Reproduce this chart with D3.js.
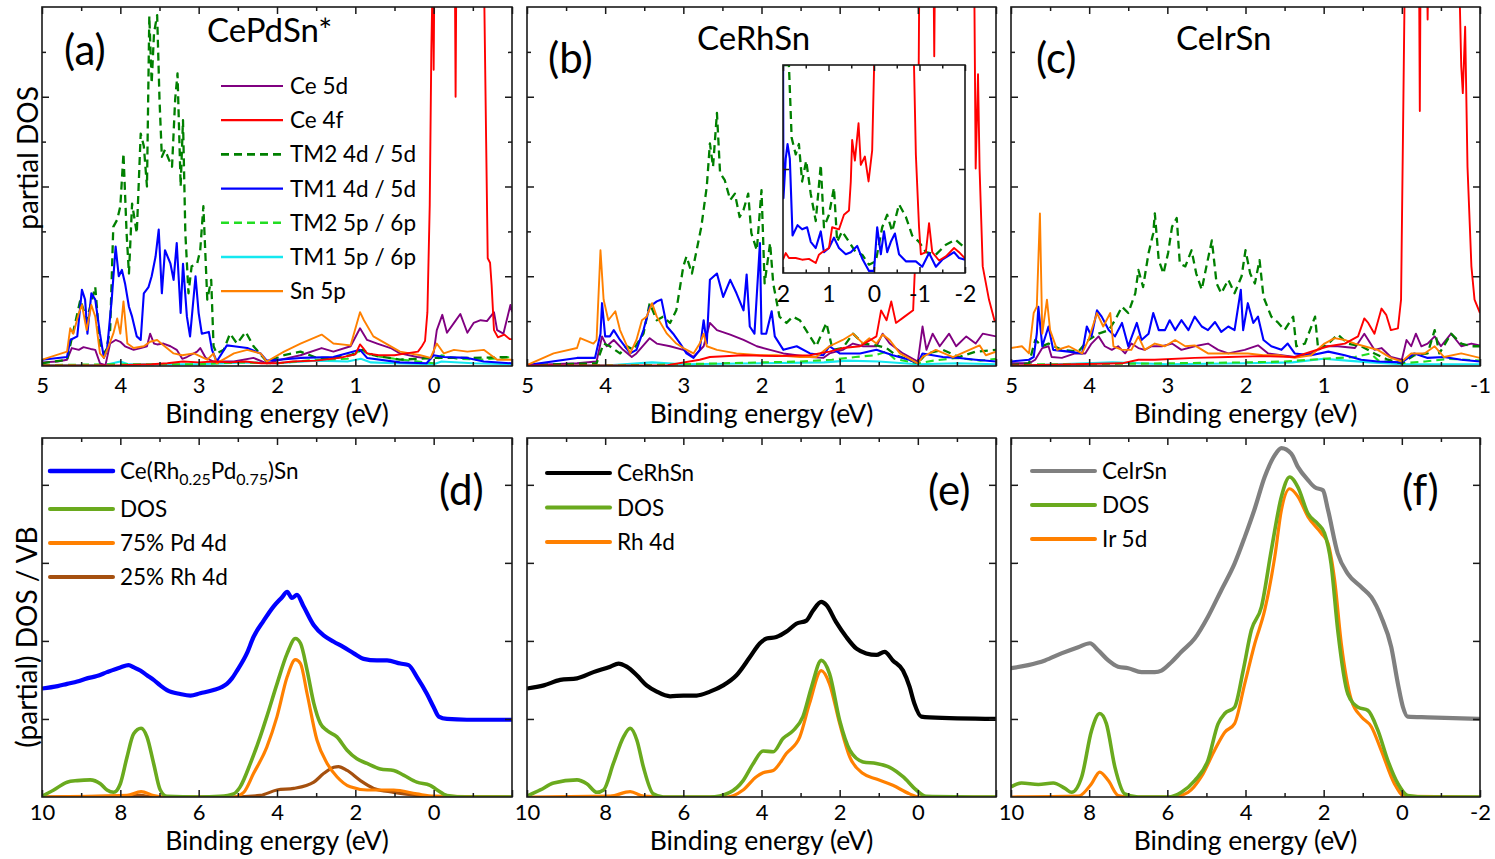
<!DOCTYPE html>
<html lang="en">
<head>
  <meta charset="UTF-8">
  <title>Partial DOS and valence band spectra</title>
  <script src="https://d3js.org/d3.v7.min.js"></script>
  <style>
    body { margin: 0; background: #fff; }
    svg { display: block; }
  </style>
</head>
<body>
<svg id="chart" width="1495" height="859"></svg>
<script>
  // ---------- data: [binding energy (eV), value] ----------

  // (a) CePdSn*
  const a_ce5d = [[5,0.04],[4.8,0.05],[4.68,0.07],[4.62,0.2],[4.53,0.18],[4.47,0.21],[4.38,0.19],[4.32,0.18],[4.26,0.03],[4.19,0.01],[4.13,0.25],[4.06,0.29],[4.0,0.27],[3.94,0.22],[3.83,0.18],[3.74,0.2],[3.66,0.22],[3.62,0.36],[3.57,0.25],[3.53,0.24],[3.45,0.25],[3.36,0.22],[3.28,0.18],[3.21,0.08],[3.15,0.1],[3.02,0.16],[2.98,0.2],[2.91,0.09],[2.81,0.05],[2.55,0.05],[2.3,0.09],[2.13,0.03],[1.91,0.08],[1.7,0.12],[1.43,0.2],[1.28,0.16],[1.06,0.22],[0.94,0.42],[0.85,0.29],[0.72,0.25],[0.55,0.2],[0.43,0.14],[0.21,0.1],[0.04,0.08],[0,0.15],[-0.04,0.4],[-0.11,0.57],[-0.17,0.37],[-0.26,0.48],[-0.34,0.58],[-0.43,0.37],[-0.51,0.48],[-0.6,0.51],[-0.68,0.5],[-0.77,0.6],[-0.81,0.4],[-0.89,0.36],[-0.98,0.68],[-1,0.6]];
  const a_ce4f = [[5,0.005],[4.0,0.01],[3.6,0.02],[3.4,0.03],[3.2,0.05],[3.0,0.04],[2.8,0.05],[2.6,0.04],[2.4,0.05],[2.2,0.03],[2.0,0.03],[1.8,0.05],[1.5,0.06],[1.2,0.09],[1.0,0.13],[0.94,0.24],[0.9,0.2],[0.85,0.14],[0.7,0.12],[0.5,0.12],[0.35,0.14],[0.2,0.16],[0.15,0.22],[0.11,0.28],[0.08,0.6],[0.05,1.8],[0.03,3.5],[0.01,4.5],[0,3.3],[-0.01,4.5],[-0.27,4.5],[-0.28,3.0],[-0.29,4.5],[-0.64,4.5],[-0.67,2.5],[-0.69,1.2],[-0.72,1.15],[-0.74,0.9],[-0.77,0.4],[-0.82,0.32],[-0.9,0.35],[-0.97,0.3],[-1,0.3]];
  const a_tm2d = [[5,0.03],[4.68,0.07],[4.51,0.74],[4.43,0.51],[4.32,0.88],[4.26,0.22],[4.19,0.14],[4.13,0.4],[4.09,1.55],[4.04,1.63],[4.0,1.78],[3.96,2.37],[3.92,1.48],[3.89,1.03],[3.85,1.81],[3.79,1.48],[3.74,2.59],[3.7,2.45],[3.66,2.0],[3.63,3.9],[3.6,3.15],[3.57,3.71],[3.53,3.91],[3.5,2.97],[3.47,2.33],[3.43,2.41],[3.38,2.3],[3.34,2.22],[3.3,2.97],[3.27,3.26],[3.23,2.0],[3.2,2.74],[3.17,1.48],[3.13,0.81],[3.09,1.11],[3.02,1.14],[2.98,1.29],[2.94,1.78],[2.89,0.74],[2.84,0.96],[2.81,0.22],[2.77,0.14],[2.68,0.18],[2.6,0.36],[2.51,0.25],[2.4,0.38],[2.3,0.22],[2.13,0.05],[1.91,0.12],[1.7,0.16],[1.49,0.09],[1.28,0.09],[1.06,0.12],[0.91,0.18],[0.77,0.12],[0.43,0.07],[0,0.09],[-0.43,0.09],[-1,0.1]];
  const a_tm1d = [[5,0.07],[4.68,0.1],[4.64,0.29],[4.55,0.33],[4.49,0.85],[4.45,0.74],[4.42,0.36],[4.37,0.81],[4.32,0.74],[4.26,0.36],[4.21,0.09],[4.17,0.18],[4.11,0.74],[4.06,1.33],[4.02,1.0],[3.98,1.07],[3.94,0.92],[3.89,0.66],[3.85,0.55],[3.79,0.33],[3.74,0.29],[3.7,0.81],[3.64,0.88],[3.6,1.0],[3.55,1.22],[3.51,1.52],[3.47,0.81],[3.43,1.29],[3.36,1.14],[3.32,0.96],[3.28,1.37],[3.23,0.59],[3.2,1.14],[3.15,0.55],[3.11,0.33],[3.04,1.0],[3.0,0.59],[2.96,0.36],[2.87,0.38],[2.83,0.18],[2.77,0.05],[2.64,0.23],[2.55,0.22],[2.38,0.2],[2.21,0.14],[2.13,0.06],[1.7,0.09],[1.28,0.1],[0.94,0.18],[0.85,0.09],[0.43,0.04],[0.09,0.03],[0,0.12],[-0.13,0.1],[-0.43,0.09],[-0.64,0.05],[-1,0.03]];
  const a_tm2p = [[5,0.01],[4,0.02],[3,0.02],[2.5,0.04],[2,0.03],[1.5,0.07],[1.1,0.08],[0.93,0.18],[0.8,0.12],[0.5,0.08],[0.2,0.05],[0,0.03],[-0.1,0.12],[-0.3,0.08],[-0.6,0.07],[-1,0.1]];
  const a_tm1p = [[5,0.01],[4.2,0.01],[4.0,0.05],[3.9,0.02],[3,0.02],[2.4,0.04],[2,0.03],[1.5,0.06],[1.1,0.05],[0.93,0.08],[0.8,0.04],[0.5,0.03],[0,0.02],[-0.1,0.05],[-0.5,0.03],[-1,0.02]];
  const a_sn5p = [[5,0.07],[4.68,0.16],[4.64,0.42],[4.6,0.36],[4.53,0.59],[4.49,0.68],[4.43,0.4],[4.37,0.68],[4.32,0.55],[4.26,0.14],[4.21,0.09],[4.15,0.22],[4.09,0.36],[4.04,0.53],[4.0,0.36],[3.96,0.72],[3.91,0.25],[3.83,0.2],[3.7,0.22],[3.62,0.27],[3.53,0.29],[3.45,0.23],[3.32,0.14],[3.21,0.12],[3.06,0.14],[2.89,0.07],[2.81,0.14],[2.77,0.03],[2.55,0.14],[2.38,0.18],[2.21,0.14],[2.13,0.05],[1.91,0.16],[1.7,0.25],[1.43,0.35],[1.28,0.25],[1.06,0.23],[0.94,0.6],[0.89,0.51],[0.77,0.33],[0.43,0.16],[0.17,0.12],[0.04,0.09],[-0.04,0.25],[-0.13,0.14],[-0.26,0.18],[-0.43,0.16],[-0.64,0.18],[-0.81,0.07],[-1,0.07]];

  // (b) CeRhSn
  const b_ce5d = [[5,0.01],[4.36,0.03],[4.11,0.05],[4.04,0.33],[3.98,0.22],[3.89,0.29],[3.77,0.18],[3.66,0.1],[3.6,0.14],[3.43,0.31],[3.34,0.25],[3.17,0.22],[3.0,0.18],[2.87,0.1],[2.74,0.22],[2.66,0.48],[2.57,0.4],[2.4,0.35],[2.23,0.29],[2.06,0.22],[1.89,0.18],[1.72,0.14],[1.55,0.12],[1.38,0.1],[1.21,0.09],[1.13,0.14],[0.96,0.18],[0.83,0.25],[0.7,0.22],[0.53,0.22],[0.45,0.36],[0.36,0.25],[0.19,0.14],[0,0.05],[-0.06,0.44],[-0.11,0.18],[-0.19,0.36],[-0.28,0.22],[-0.4,0.36],[-0.49,0.22],[-0.62,0.33],[-0.74,0.25],[-0.83,0.36],[-1,0.33]];
  const b_ce4f = [[5,0.005],[3.2,0.01],[2.79,0.07],[2.66,0.1],[2.23,0.12],[1.81,0.11],[1.38,0.12],[1.26,0.14],[1.13,0.16],[0.96,0.2],[0.74,0.22],[0.53,0.33],[0.47,0.62],[0.4,0.51],[0.34,0.72],[0.28,0.48],[0.17,0.55],[0.06,0.62],[0.0,1.85],[-0.02,4.5],[-0.2,4.5],[-0.21,3.45],[-0.22,4.5],[-0.72,4.5],[-0.74,2.2],[-0.77,3.25],[-0.79,2.2],[-0.83,1.11],[-0.91,0.74],[-0.98,0.51],[-1,0.5]];
  const b_tm2d = [[5,0.01],[4.11,0.03],[4.02,0.25],[3.94,0.22],[3.81,0.14],[3.72,0.22],[3.64,0.18],[3.51,0.36],[3.43,0.7],[3.34,0.51],[3.26,0.55],[3.17,0.48],[3.09,0.62],[3.0,1.11],[2.96,1.22],[2.89,1.03],[2.83,1.29],[2.77,1.55],[2.7,2.0],[2.66,2.48],[2.62,2.22],[2.57,2.82],[2.53,2.15],[2.47,2.07],[2.4,1.85],[2.34,1.92],[2.28,1.66],[2.23,1.74],[2.17,1.92],[2.13,1.48],[2.06,1.29],[2.0,1.96],[1.96,0.92],[1.89,1.37],[1.85,0.92],[1.77,0.55],[1.68,0.48],[1.6,0.55],[1.51,0.51],[1.38,0.33],[1.3,0.22],[1.17,0.48],[1.09,0.18],[0.96,0.2],[0.83,0.36],[0.7,0.25],[0.53,0.23],[0.4,0.2],[0.28,0.12],[0.11,0.07],[0,0.03],[-0.11,0.14],[-0.32,0.18],[-0.53,0.1],[-0.74,0.16],[-1,0.18]];
  const b_tm1d = [[5,0.01],[4.36,0.09],[4.13,0.09],[4.06,0.36],[4.04,0.7],[4.0,0.33],[3.94,0.33],[3.89,0.4],[3.81,0.29],[3.68,0.14],[3.6,0.18],[3.51,0.4],[3.43,0.66],[3.34,0.72],[3.28,0.74],[3.21,0.44],[3.13,0.36],[3.04,0.25],[2.96,0.14],[2.87,0.09],[2.79,0.18],[2.74,0.51],[2.7,0.25],[2.66,0.96],[2.57,1.03],[2.49,0.77],[2.4,0.96],[2.32,0.81],[2.23,0.62],[2.19,1.02],[2.15,0.44],[2.09,0.36],[2.02,1.37],[2.0,0.36],[1.94,0.36],[1.87,0.61],[1.83,0.33],[1.72,0.18],[1.55,0.22],[1.38,0.14],[1.21,0.12],[1.13,0.22],[1.0,0.14],[0.74,0.14],[0.53,0.18],[0.32,0.12],[0.11,0.07],[0,0.03],[-0.06,0.14],[-0.32,0.1],[-0.53,0.09],[-0.74,0.07],[-1,0.05]];
  const b_tm2p = [[5,0.005],[3.5,0.01],[3,0.02],[2,0.04],[1.5,0.05],[1.1,0.07],[0.8,0.1],[0.55,0.12],[0.4,0.16],[0.3,0.08],[0,0.03],[-0.2,0.06],[-0.5,0.09],[-0.8,0.06],[-1,0.08]];
  const b_tm1p = [[5,0.005],[3.9,0.01],[3.4,0.04],[3,0.02],[2,0.03],[1.2,0.04],[0.9,0.06],[0.5,0.05],[0,0.02],[-0.5,0.03],[-1,0.02]];
  const b_sn5p = [[5,0.01],[4.66,0.14],[4.36,0.2],[4.32,0.31],[4.15,0.25],[4.11,0.29],[4.06,1.29],[4.02,0.74],[3.96,0.51],[3.87,0.61],[3.81,0.4],[3.68,0.14],[3.6,0.29],[3.53,0.51],[3.47,0.55],[3.4,0.7],[3.34,0.55],[3.21,0.36],[3.09,0.25],[3.0,0.2],[2.87,0.14],[2.79,0.25],[2.74,0.36],[2.7,0.22],[2.57,0.18],[2.32,0.14],[2.02,0.12],[1.81,0.12],[1.51,0.1],[1.3,0.1],[1.13,0.22],[0.96,0.29],[0.83,0.36],[0.7,0.25],[0.62,0.31],[0.53,0.25],[0.45,0.35],[0.36,0.29],[0.23,0.14],[0,0.03],[-0.06,0.1],[-0.23,0.18],[-0.45,0.1],[-0.66,0.18],[-0.79,0.23],[-0.87,0.12],[-1,0.16]];

  // (b) inset, 2 .. -2 eV
  const inset_ce4f = [[2,0.064],[1.94,0.096],[1.87,0.072],[1.72,0.072],[1.58,0.064],[1.43,0.068],[1.28,0.048],[1.21,0.088],[1.14,0.1],[0.99,0.12],[0.92,0.22],[0.77,0.21],[0.66,0.28],[0.55,0.3],[0.51,0.44],[0.48,0.64],[0.42,0.54],[0.34,0.72],[0.29,0.52],[0.2,0.56],[0.12,0.44],[0.04,0.59],[0.0,0.97],[-0.01,1.2],[-0.86,1.2],[-0.92,0.57],[-0.99,0.22],[-1.03,0.09],[-1.14,0.1],[-1.21,0.24],[-1.28,0.1],[-1.43,0.06],[-1.58,0.08],[-1.76,0.12],[-1.87,0.1],[-2,0.07]];
  const inset_tm2d = [[2,1.0],[1.87,1.0],[1.81,0.65],[1.72,0.57],[1.65,0.62],[1.58,0.44],[1.49,0.54],[1.39,0.38],[1.28,0.25],[1.17,0.52],[1.1,0.22],[0.99,0.28],[0.88,0.41],[0.81,0.15],[0.7,0.2],[0.55,0.15],[0.4,0.1],[0.26,0.088],[0.11,0.04],[-0.04,0.056],[-0.18,0.22],[-0.29,0.28],[-0.4,0.2],[-0.55,0.33],[-0.7,0.27],[-0.84,0.18],[-0.99,0.15],[-1.14,0.1],[-1.36,0.088],[-1.58,0.136],[-1.79,0.16],[-2,0.12]];
  const inset_tm1d = [[2,1.2],[1.99,0.36],[1.94,0.55],[1.9,0.62],[1.85,0.55],[1.79,0.18],[1.68,0.23],[1.58,0.21],[1.47,0.22],[1.39,0.15],[1.28,0.12],[1.17,0.2],[1.1,0.1],[0.99,0.12],[0.88,0.17],[0.77,0.12],[0.62,0.09],[0.51,0.1],[0.37,0.13],[0.26,0.07],[0.11,0.01],[0,0.01],[-0.07,0.22],[-0.15,0.09],[-0.22,0.2],[-0.29,0.1],[-0.37,0.15],[-0.46,0.19],[-0.55,0.09],[-0.7,0.056],[-0.92,0.056],[-1.06,0.03],[-1.21,0.096],[-1.36,0.03],[-1.5,0.064],[-1.76,0.1],[-1.87,0.072],[-2,0.064]];

  // (c) CeIrSn
  const c_ce5d = [[5,0.03],[4.77,0.03],[4.69,0.07],[4.6,0.2],[4.52,0.22],[4.48,0.1],[4.35,0.09],[4.18,0.14],[4.05,0.14],[3.97,0.25],[3.88,0.33],[3.8,0.22],[3.71,0.18],[3.63,0.22],[3.54,0.14],[3.46,0.25],[3.37,0.2],[3.29,0.18],[3.2,0.22],[3.07,0.22],[2.94,0.25],[2.82,0.18],[2.65,0.22],[2.48,0.25],[2.35,0.18],[2.22,0.14],[2.01,0.18],[1.84,0.23],[1.71,0.14],[1.54,0.12],[1.37,0.1],[1.16,0.14],[0.99,0.22],[0.82,0.22],[0.6,0.2],[0.48,0.36],[0.35,0.18],[0.26,0.2],[0.14,0.1],[0,0.07],[-0.06,0.29],[-0.12,0.22],[-0.18,0.36],[-0.25,0.22],[-0.33,0.25],[-0.42,0.33],[-0.5,0.22],[-0.63,0.36],[-0.76,0.22],[-0.89,0.25],[-1,0.23]];
  const c_ce4f = [[5,0.005],[3.58,0.03],[3.37,0.07],[3.16,0.07],[2.65,0.09],[2.22,0.1],[1.8,0.11],[1.37,0.1],[1.16,0.16],[0.94,0.22],[0.73,0.25],[0.56,0.33],[0.48,0.53],[0.43,0.48],[0.35,0.36],[0.26,0.64],[0.2,0.57],[0.14,0.4],[0.05,0.42],[0.01,0.74],[-0.02,2.97],[-0.04,4.5],[-0.22,4.5],[-0.23,2.84],[-0.24,4.5],[-0.32,4.5],[-0.33,3.86],[-0.34,4.5],[-0.73,4.5],[-0.76,3.34],[-0.78,3.04],[-0.81,3.78],[-0.84,2.22],[-0.89,1.11],[-0.93,0.74],[-1,0.59]];
  const c_tm2d = [[5,0.01],[4.77,0.03],[4.69,0.29],[4.6,0.22],[4.52,0.25],[4.35,0.18],[4.14,0.16],[4.01,0.29],[3.88,0.36],[3.75,0.4],[3.67,0.51],[3.58,0.66],[3.5,0.59],[3.41,0.81],[3.37,1.07],[3.31,0.88],[3.24,1.26],[3.18,1.48],[3.16,1.7],[3.11,1.18],[3.05,1.03],[2.99,1.26],[2.94,1.55],[2.88,1.65],[2.84,1.14],[2.77,1.11],[2.69,1.29],[2.63,1.03],[2.56,0.85],[2.5,1.11],[2.43,1.4],[2.37,0.92],[2.31,0.81],[2.22,0.96],[2.14,0.81],[2.05,1.0],[2.0,1.29],[1.94,1.03],[1.88,0.92],[1.82,1.18],[1.77,0.77],[1.67,0.55],[1.58,0.48],[1.5,0.4],[1.39,0.55],[1.35,0.22],[1.24,0.25],[1.11,0.55],[1.07,0.18],[0.94,0.25],[0.82,0.35],[0.69,0.25],[0.52,0.22],[0.35,0.14],[0.18,0.07],[0,0.03],[-0.16,0.12],[-0.33,0.14],[-0.42,0.4],[-0.48,0.14],[-0.63,0.36],[-0.76,0.25],[-0.89,0.22],[-1,0.22]];
  const c_tm1d = [[5,0.05],[4.77,0.07],[4.71,0.1],[4.67,0.36],[4.65,0.66],[4.6,0.22],[4.52,0.44],[4.46,0.18],[4.26,0.16],[4.09,0.14],[4.03,0.44],[3.97,0.33],[3.9,0.62],[3.84,0.55],[3.75,0.4],[3.67,0.33],[3.58,0.48],[3.5,0.22],[3.39,0.48],[3.33,0.29],[3.24,0.36],[3.18,0.59],[3.11,0.4],[3.03,0.4],[2.97,0.51],[2.9,0.4],[2.82,0.51],[2.73,0.4],[2.65,0.55],[2.56,0.44],[2.48,0.4],[2.39,0.49],[2.31,0.38],[2.22,0.44],[2.14,0.4],[2.06,0.85],[2.03,0.4],[1.97,0.7],[1.9,0.48],[1.84,0.55],[1.77,0.29],[1.67,0.22],[1.54,0.18],[1.46,0.25],[1.37,0.14],[1.16,0.12],[0.94,0.16],[0.73,0.12],[0.52,0.07],[0.31,0.05],[0,0.04],[-0.16,0.14],[-0.33,0.09],[-0.54,0.1],[-0.76,0.07],[-1,0.05]];
  const c_tm2p = [[5,0.005],[4.7,0.02],[4,0.02],[3,0.03],[2,0.04],[1.5,0.05],[1,0.08],[0.6,0.1],[0.4,0.14],[0.3,0.06],[0,0.03],[-0.3,0.05],[-0.6,0.08],[-1,0.06]];
  const c_tm1p = [[5,0.005],[4.66,0.01],[3.7,0.04],[3,0.02],[2,0.03],[1.4,0.04],[1,0.08],[0.7,0.06],[0.4,0.04],[0,0.02],[-0.5,0.02],[-1,0.02]];
  const c_sn5p = [[5,0.2],[4.86,0.22],[4.77,0.14],[4.71,0.59],[4.67,0.66],[4.63,1.7],[4.6,0.36],[4.54,0.74],[4.5,0.4],[4.41,0.18],[4.26,0.22],[4.09,0.14],[4.01,0.29],[3.9,0.59],[3.82,0.44],[3.73,0.59],[3.69,0.22],[3.58,0.18],[3.46,0.18],[3.37,0.33],[3.29,0.18],[3.16,0.25],[3.03,0.22],[2.9,0.29],[2.77,0.22],[2.65,0.23],[2.48,0.14],[2.22,0.14],[1.97,0.14],[1.77,0.12],[1.58,0.12],[1.37,0.09],[1.16,0.12],[0.99,0.25],[0.86,0.31],[0.73,0.29],[0.6,0.25],[0.48,0.22],[0.31,0.18],[0.14,0.09],[0,0.05],[-0.12,0.14],[-0.29,0.14],[-0.42,0.22],[-0.54,0.1],[-0.76,0.14],[-1,0.09]];

  // (d) Ce(Rh0.25Pd0.75)Sn
  const d_exp = [[10,1.39],[9.6,1.42],[9.36,1.45],[9.1,1.48],[8.85,1.52],[8.6,1.55],[8.34,1.6],[8.0,1.66],[7.79,1.69],[7.65,1.66],[7.49,1.62],[7.32,1.56],[7.15,1.5],[6.98,1.43],[6.81,1.37],[6.47,1.32],[6.21,1.3],[5.96,1.33],[5.62,1.37],[5.4,1.41],[5.28,1.45],[5.15,1.52],[5.02,1.62],[4.77,1.84],[4.6,2.05],[4.34,2.26],[4.09,2.44],[3.87,2.56],[3.74,2.63],[3.62,2.55],[3.49,2.59],[3.32,2.44],[3.06,2.2],[2.81,2.07],[2.55,1.99],[2.3,1.92],[2.04,1.84],[1.79,1.77],[1.45,1.75],[1.19,1.75],[0.85,1.71],[0.64,1.69],[0.43,1.54],[0.17,1.32],[0,1.15],[-0.13,1.03],[-0.34,1.0],[-0.85,0.99],[-2,0.99]];
  const d_dos = [[10,0.01],[9.7,0.09],[9.36,0.19],[9.1,0.21],[8.77,0.22],[8.51,0.17],[8.34,0.09],[8.17,0.06],[8.0,0.17],[7.83,0.51],[7.66,0.81],[7.47,0.88],[7.32,0.77],[7.15,0.43],[6.98,0.09],[6.81,0.01],[6.0,0],[5.45,0.01],[5.11,0.04],[4.94,0.13],[4.68,0.43],[4.43,0.77],[4.26,1.03],[4.0,1.45],[3.74,1.84],[3.53,2.03],[3.4,1.97],[3.23,1.62],[3.06,1.2],[2.89,0.94],[2.72,0.85],[2.47,0.77],[2.21,0.6],[1.96,0.49],[1.7,0.43],[1.36,0.36],[1.02,0.34],[0.77,0.28],[0.43,0.19],[0.09,0.15],[-0.09,0.09],[-0.34,0.02],[-0.85,0],[-2,0]];
  const d_pd4d = [[10,0],[7.83,0.02],[7.47,0.07],[7.15,0.02],[6.81,0],[5.11,0],[4.85,0.06],[4.6,0.3],[4.26,0.64],[4.0,1.03],[3.74,1.54],[3.53,1.76],[3.4,1.71],[3.23,1.32],[2.98,0.73],[2.72,0.43],[2.47,0.26],[2.13,0.13],[1.7,0.09],[1.02,0.09],[0.43,0.04],[0,0.01],[-2,0]];
  const d_rh4d = [[10,0],[7.83,0.01],[7.49,0.02],[7.15,0],[5.11,0],[4.43,0.02],[4.0,0.09],[3.57,0.11],[3.06,0.19],[2.81,0.3],[2.55,0.38],[2.43,0.39],[2.21,0.34],[1.87,0.21],[1.53,0.11],[1.02,0.06],[0.43,0.02],[0,0],[-2,0]];

  // (e) CeRhSn
  const e_exp = [[10,1.39],[9.57,1.43],[9.15,1.5],[8.72,1.52],[8.3,1.6],[7.87,1.67],[7.66,1.71],[7.45,1.67],[7.19,1.56],[6.94,1.43],[6.68,1.35],[6.34,1.29],[6.0,1.3],[5.66,1.3],[5.32,1.35],[4.98,1.43],[4.64,1.56],[4.3,1.79],[4.04,1.97],[3.87,2.03],[3.62,2.05],[3.36,2.12],[3.11,2.22],[2.85,2.26],[2.68,2.39],[2.47,2.5],[2.34,2.46],[2.09,2.24],[1.83,2.05],[1.57,1.9],[1.32,1.84],[1.06,1.82],[0.85,1.86],[0.64,1.75],[0.38,1.62],[0.21,1.41],[0.09,1.2],[-0.09,1.03],[-0.3,1.02],[-2,1.0]];
  const e_dos = [[10,0.01],[9.66,0.09],[9.32,0.18],[8.72,0.22],[8.47,0.17],[8.21,0.06],[8.04,0.09],[7.79,0.43],[7.53,0.77],[7.36,0.88],[7.19,0.73],[7.02,0.38],[6.77,0.04],[6.51,0],[5.32,0],[4.81,0.06],[4.47,0.21],[4.21,0.43],[3.96,0.59],[3.7,0.58],[3.45,0.75],[3.19,0.85],[2.94,1.03],[2.72,1.41],[2.47,1.75],[2.26,1.58],[2.0,0.98],[1.74,0.6],[1.4,0.45],[1.06,0.43],[0.72,0.38],[0.38,0.26],[0.04,0.09],[-0.21,0.01],[-2,0]];
  const e_rh4d = [[10,0],[7.87,0.01],[7.36,0.07],[7.02,0.01],[6.51,0],[4.89,0],[4.47,0.09],[4.13,0.26],[3.96,0.31],[3.7,0.34],[3.36,0.56],[3.02,0.77],[2.77,1.2],[2.47,1.62],[2.26,1.45],[2.0,0.94],[1.74,0.51],[1.4,0.3],[1.06,0.23],[0.64,0.15],[0.21,0.04],[-0.04,0],[-2,0]];

  // (f) CeIrSn
  const f_exp = [[10,1.65],[9.56,1.69],[9.13,1.75],[8.71,1.84],[8.28,1.92],[7.98,1.97],[7.77,1.88],[7.51,1.75],[7.26,1.67],[7.0,1.65],[6.66,1.6],[6.32,1.6],[6.15,1.62],[5.89,1.73],[5.64,1.86],[5.3,2.03],[4.96,2.31],[4.62,2.65],[4.28,2.99],[4.02,3.33],[3.76,3.7],[3.51,4.1],[3.25,4.38],[3.08,4.47],[2.83,4.4],[2.66,4.23],[2.4,4.06],[2.23,3.97],[2.02,3.93],[1.89,3.68],[1.64,3.12],[1.38,2.86],[1.04,2.69],[0.78,2.56],[0.53,2.31],[0.27,1.92],[0.1,1.45],[-0.03,1.15],[-0.15,1.03],[-0.66,1.02],[-2,1.0]];
  const f_dos = [[10,0.13],[9.73,0.18],[9.3,0.16],[8.92,0.18],[8.62,0.11],[8.45,0.06],[8.19,0.26],[7.94,0.85],[7.73,1.07],[7.56,0.94],[7.34,0.38],[7.09,0.04],[6.75,0],[5.98,0],[5.64,0.06],[5.3,0.21],[4.96,0.47],[4.7,0.94],[4.53,1.07],[4.28,1.15],[4.06,1.62],[3.85,2.14],[3.59,2.44],[3.34,3.16],[3.08,3.85],[2.87,4.1],[2.66,3.97],[2.4,3.63],[2.15,3.5],[1.98,3.38],[1.81,2.99],[1.64,2.14],[1.38,1.32],[1.12,1.15],[0.87,1.11],[0.61,0.85],[0.36,0.47],[0.1,0.17],[-0.15,0.02],[-0.66,0],[-2,0]];
  const f_ir5d = [[10,0],[8.28,0.01],[7.94,0.17],[7.73,0.32],[7.51,0.21],[7.26,0.02],[7.0,0],[5.89,0],[5.47,0.06],[5.13,0.26],[4.79,0.6],[4.53,0.83],[4.28,0.94],[4.02,1.45],[3.76,1.97],[3.51,2.39],[3.25,3.08],[3.08,3.68],[2.87,3.95],[2.66,3.85],[2.4,3.59],[2.06,3.38],[1.89,3.25],[1.72,2.78],[1.55,1.97],[1.29,1.24],[1.04,1.03],[0.78,0.9],[0.53,0.6],[0.19,0.17],[-0.07,0.01],[-2,0]];

  // axis ticks and labels
  const topXMajor = [5, 4, 3, 2, 1, 0, -1];
  const topXMinor = [4.5, 3.5, 2.5, 1.5, 0.5, -0.5];
  const topYMajor = [1, 2, 3];
  const topYMinor = [0.5, 1.5, 2.5, 3.5];
  const botXMajor = [10, 8, 6, 4, 2, 0, -2];
  const botXMinor = [9, 7, 5, 3, 1, -1];
  const botYMajor = [1, 2, 3, 4];
  const insetXMajor = [2, 1, 0, -1, -2];
  const insetXMinor = [1.5, 0.5, -0.5, -1.5];
  const insetYMajor = [0.5];

  // ---------- drawing ----------
  const FONT = 'Lato, "Open Sans", sans-serif';
  const INK = '#1a1a1a';
  const svg = d3.select('#chart');
  svg.append('rect').attr('width', 1495).attr('height', 859).attr('fill', '#fff');

  const cols = [{ left: 42, right: 512 }, { left: 527, right: 996 }, { left: 1011, right: 1480 }];
  const topRow = { top: 7, bottom: 366 };
  const botRow = { top: 438, bottom: 797 };

  const topStyle = {
    ce5d: { label: 'Ce 5d', color: '#800080', width: 1.9 },
    ce4f: { label: 'Ce 4f', color: '#ff0000', width: 1.9 },
    tm2d: { label: 'TM2 4d / 5d', color: '#008000', width: 2.3, dash: '8,5' },
    tm1d: { label: 'TM1 4d / 5d', color: '#0000ff', width: 2.1 },
    tm2p: { label: 'TM2 5p / 6p', color: '#22dd22', width: 2.1, dash: '8,5' },
    tm1p: { label: 'TM1 5p / 6p', color: '#14e8f0', width: 2.1 },
    sn5p: { label: 'Sn 5p', color: '#ff8000', width: 1.9 }
  };
  const topDrawOrder = ['tm1p', 'tm2p', 'ce5d', 'tm2d', 'tm1d', 'sn5p', 'ce4f'];
  const topLegendOrder = ['ce5d', 'ce4f', 'tm2d', 'tm1d', 'tm2p', 'tm1p', 'sn5p'];

  const GREEN = '#6aaa1e', ORANGE = '#ff8000', BROWN = '#a5500f';

  let clipCount = 0;

  // frame, inward ticks on all four sides, optional labels on the bottom
  function drawAxes(g, x, y, box, opt) {
    const tickStyle = sel => {
      sel.select('.domain').remove();
      sel.selectAll('line').attr('stroke', INK).attr('stroke-width', 1.5);
      sel.selectAll('text').attr('fill', '#000');
      sel.attr('font-family', FONT).attr('font-size', opt.fontSize);
    };
    g.append('g').attr('transform', `translate(0,${box.bottom})`)
      .call(d3.axisBottom(x).tickValues(opt.xMajor).tickSize(-opt.major).tickPadding(opt.pad)
        .tickFormat(d => opt.xLabels.includes(d) ? String(d) : ''))
      .call(tickStyle);
    g.append('g').attr('transform', `translate(0,${box.bottom})`)
      .call(d3.axisBottom(x).tickValues(opt.xMinor || []).tickSize(-opt.minor).tickFormat(''))
      .call(tickStyle);
    g.append('g').attr('transform', `translate(0,${box.top})`)
      .call(d3.axisTop(x).tickValues(opt.xMajor).tickSize(-opt.major).tickFormat(''))
      .call(tickStyle);
    g.append('g').attr('transform', `translate(0,${box.top})`)
      .call(d3.axisTop(x).tickValues(opt.xMinor || []).tickSize(-opt.minor).tickFormat(''))
      .call(tickStyle);
    [[d3.axisLeft, box.left], [d3.axisRight, box.right]].forEach(([axis, pos]) => {
      g.append('g').attr('transform', `translate(${pos},0)`)
        .call(axis(y).tickValues(opt.yMajor).tickSize(-opt.major).tickFormat(''))
        .call(tickStyle);
      g.append('g').attr('transform', `translate(${pos},0)`)
        .call(axis(y).tickValues(opt.yMinor || []).tickSize(-opt.minor).tickFormat(''))
        .call(tickStyle);
    });
    g.append('rect')
      .attr('x', box.left).attr('y', box.top)
      .attr('width', box.right - box.left).attr('height', box.bottom - box.top)
      .attr('fill', 'none').attr('stroke', INK).attr('stroke-width', 1.6);
  }

  function drawLines(g, x, y, box, series) {
    const id = 'clip' + (clipCount++);
    svg.append('clipPath').attr('id', id).append('rect')
      .attr('x', box.left).attr('y', box.top)
      .attr('width', box.right - box.left).attr('height', box.bottom - box.top);
    const layer = g.append('g').attr('clip-path', `url(#${id})`);
    series.forEach(s => {
      layer.append('path').datum(s.data)
        .attr('fill', 'none')
        .attr('stroke', s.color)
        .attr('stroke-width', s.width)
        .attr('stroke-dasharray', s.dash || null)
        .attr('stroke-linejoin', 'round')
        .attr('d', d3.line().x(d => x(d[0])).y(d => y(d[1])).curve(s.curve || d3.curveLinear));
    });
  }

  function label(txt, xPos, yPos, size, anchor) {
    return svg.append('text').attr('x', xPos).attr('y', yPos)
      .attr('font-family', FONT).attr('font-size', size)
      .attr('text-anchor', anchor || 'start').attr('fill', '#000').text(txt);
  }

  // ----- top row: partial DOS -----
  const topData = [
    { ce5d: a_ce5d, ce4f: a_ce4f, tm2d: a_tm2d, tm1d: a_tm1d, tm2p: a_tm2p, tm1p: a_tm1p, sn5p: a_sn5p },
    { ce5d: b_ce5d, ce4f: b_ce4f, tm2d: b_tm2d, tm1d: b_tm1d, tm2p: b_tm2p, tm1p: b_tm1p, sn5p: b_sn5p },
    { ce5d: c_ce5d, ce4f: c_ce4f, tm2d: c_tm2d, tm1d: c_tm1d, tm2p: c_tm2p, tm1p: c_tm1p, sn5p: c_sn5p }
  ];
  const topXLabels = [[5, 4, 3, 2, 1, 0], [5, 4, 3, 2, 1, 0], [5, 4, 3, 2, 1, 0, -1]];

  topData.forEach((set, i) => {
    const box = { left: cols[i].left, right: cols[i].right, top: topRow.top, bottom: topRow.bottom };
    const x = d3.scaleLinear().domain([5, -1]).range([box.left, box.right]);
    const y = d3.scaleLinear().domain([0, 4]).range([box.bottom, box.top]);
    const g = svg.append('g');
    drawLines(g, x, y, box, topDrawOrder.map(k => Object.assign({ data: set[k] }, topStyle[k])));
    drawAxes(g, x, y, box, {
      xMajor: topXMajor, xMinor: topXMinor, yMajor: topYMajor, yMinor: topYMinor,
      xLabels: topXLabels[i], major: 7, minor: 4, pad: 11, fontSize: 22
    });
    label('Binding energy (eV)', (box.left + box.right) / 2, 423, 26.5, 'middle');
  });

  // inset of (b)
  {
    const box = { left: 783, right: 965, top: 65, bottom: 273 };
    const x = d3.scaleLinear().domain([2, -2]).range([box.left, box.right]);
    const y = d3.scaleLinear().domain([0, 1]).range([box.bottom, box.top]);
    const g = svg.append('g');
    g.append('rect').attr('x', box.left).attr('y', box.top)
      .attr('width', box.right - box.left).attr('height', box.bottom - box.top).attr('fill', '#fff');
    drawLines(g, x, y, box, [
      Object.assign({ data: inset_tm2d }, topStyle.tm2d),
      Object.assign({ data: inset_tm1d }, topStyle.tm1d),
      Object.assign({ data: inset_ce4f }, topStyle.ce4f)
    ]);
    drawAxes(g, x, y, box, {
      xMajor: insetXMajor, xMinor: insetXMinor, yMajor: insetYMajor,
      xLabels: insetXMajor, major: 6, minor: 3.5, pad: 13, fontSize: 23
    });
  }

  label('(a)', 64, 65, 42);
  label('CePdSn*', 207, 42, 33);
  label('(b)', 548, 73, 42);
  label('CeRhSn', 697, 50, 33);
  label('(c)', 1036, 73, 42);
  label('CeIrSn', 1176, 50, 33);

  // legend of (a)
  topLegendOrder.forEach((k, j) => {
    const s = topStyle[k];
    const ly = 86 + j * 34.2;
    svg.append('line').attr('x1', 221).attr('x2', 283).attr('y1', ly).attr('y2', ly)
      .attr('stroke', s.color).attr('stroke-width', s.width + 0.3)
      .attr('stroke-dasharray', s.dash || null);
    label(s.label, 290, ly + 8, 22.5);
  });

  svg.append('text')
    .attr('transform', 'translate(38,158) rotate(-90)')
    .attr('font-family', FONT).attr('font-size', 28).attr('text-anchor', 'middle')
    .text('partial DOS');

  // ----- bottom row: valence band vs calculated DOS -----
  const smooth = d3.curveMonotoneX;
  const botSeries = [
    [
      { data: d_rh4d, color: BROWN, width: 3.2, curve: smooth },
      { data: d_pd4d, color: ORANGE, width: 3.2, curve: smooth },
      { data: d_dos, color: GREEN, width: 3.6, curve: smooth },
      { data: d_exp, color: '#0000ff', width: 4.2, curve: smooth }
    ],
    [
      { data: e_rh4d, color: ORANGE, width: 3.2, curve: smooth },
      { data: e_dos, color: GREEN, width: 3.6, curve: smooth },
      { data: e_exp, color: '#000000', width: 4.2, curve: smooth }
    ],
    [
      { data: f_ir5d, color: ORANGE, width: 3.2, curve: smooth },
      { data: f_dos, color: GREEN, width: 3.6, curve: smooth },
      { data: f_exp, color: '#808080', width: 4.2, curve: smooth }
    ]
  ];
  const botXLabels = [[10, 8, 6, 4, 2, 0], [10, 8, 6, 4, 2, 0], [10, 8, 6, 4, 2, 0, -2]];

  botSeries.forEach((series, i) => {
    const box = { left: cols[i].left, right: cols[i].right, top: botRow.top, bottom: botRow.bottom };
    const x = d3.scaleLinear().domain([10, -2]).range([box.left, box.right]);
    const y = d3.scaleLinear().domain([0, 4.6]).range([box.bottom, box.top]);
    const g = svg.append('g');
    drawLines(g, x, y, box, series);
    drawAxes(g, x, y, box, {
      xMajor: botXMajor, xMinor: botXMinor, yMajor: botYMajor,
      xLabels: botXLabels[i], major: 7, minor: 4, pad: 7, fontSize: 22
    });
    label('Binding energy (eV)', (box.left + box.right) / 2, 850, 26.5, 'middle');
  });

  label('(d)', 439, 505, 42);
  label('(e)', 928, 505, 42);
  label('(f)', 1402, 505, 42);

  function legendRow(x1, ly, color, width) {
    svg.append('line').attr('x1', x1).attr('x2', x1 + 63).attr('y1', ly).attr('y2', ly)
      .attr('stroke', color).attr('stroke-width', width).attr('stroke-linecap', 'round');
  }

  // legend (d)
  legendRow(50, 471, '#0000ff', 4.5);
  const t = label('', 120, 479, 22.5);
  t.append('tspan').text('Ce(Rh');
  t.append('tspan').attr('dy', 6).attr('font-size', 16).text('0.25');
  t.append('tspan').attr('dy', -6).text('Pd');
  t.append('tspan').attr('dy', 6).attr('font-size', 16).text('0.75');
  t.append('tspan').attr('dy', -6).text(')Sn');
  [['DOS', GREEN], ['75% Pd 4d', ORANGE], ['25% Rh 4d', BROWN]].forEach(([txt, c], j) => {
    const ly = 509 + j * 34;
    legendRow(50, ly, c, 4);
    label(txt, 120, ly + 8, 22.5);
  });

  // legend (e)
  [['CeRhSn', '#000000'], ['DOS', GREEN], ['Rh 4d', ORANGE]].forEach(([txt, c], j) => {
    const ly = 473 + j * 34.5;
    legendRow(547, ly, c, 4);
    label(txt, 617, ly + 8, 22.5);
  });

  // legend (f)
  [['CeIrSn', '#808080'], ['DOS', GREEN], ['Ir 5d', ORANGE]].forEach(([txt, c], j) => {
    const ly = 471 + j * 34;
    legendRow(1032, ly, c, 4);
    label(txt, 1102, ly + 8, 22.5);
  });

  svg.append('text')
    .attr('transform', 'translate(37,637) rotate(-90)')
    .attr('font-family', FONT).attr('font-size', 28).attr('text-anchor', 'middle')
    .text('(partial) DOS / VB');
</script>
</body>
</html>
